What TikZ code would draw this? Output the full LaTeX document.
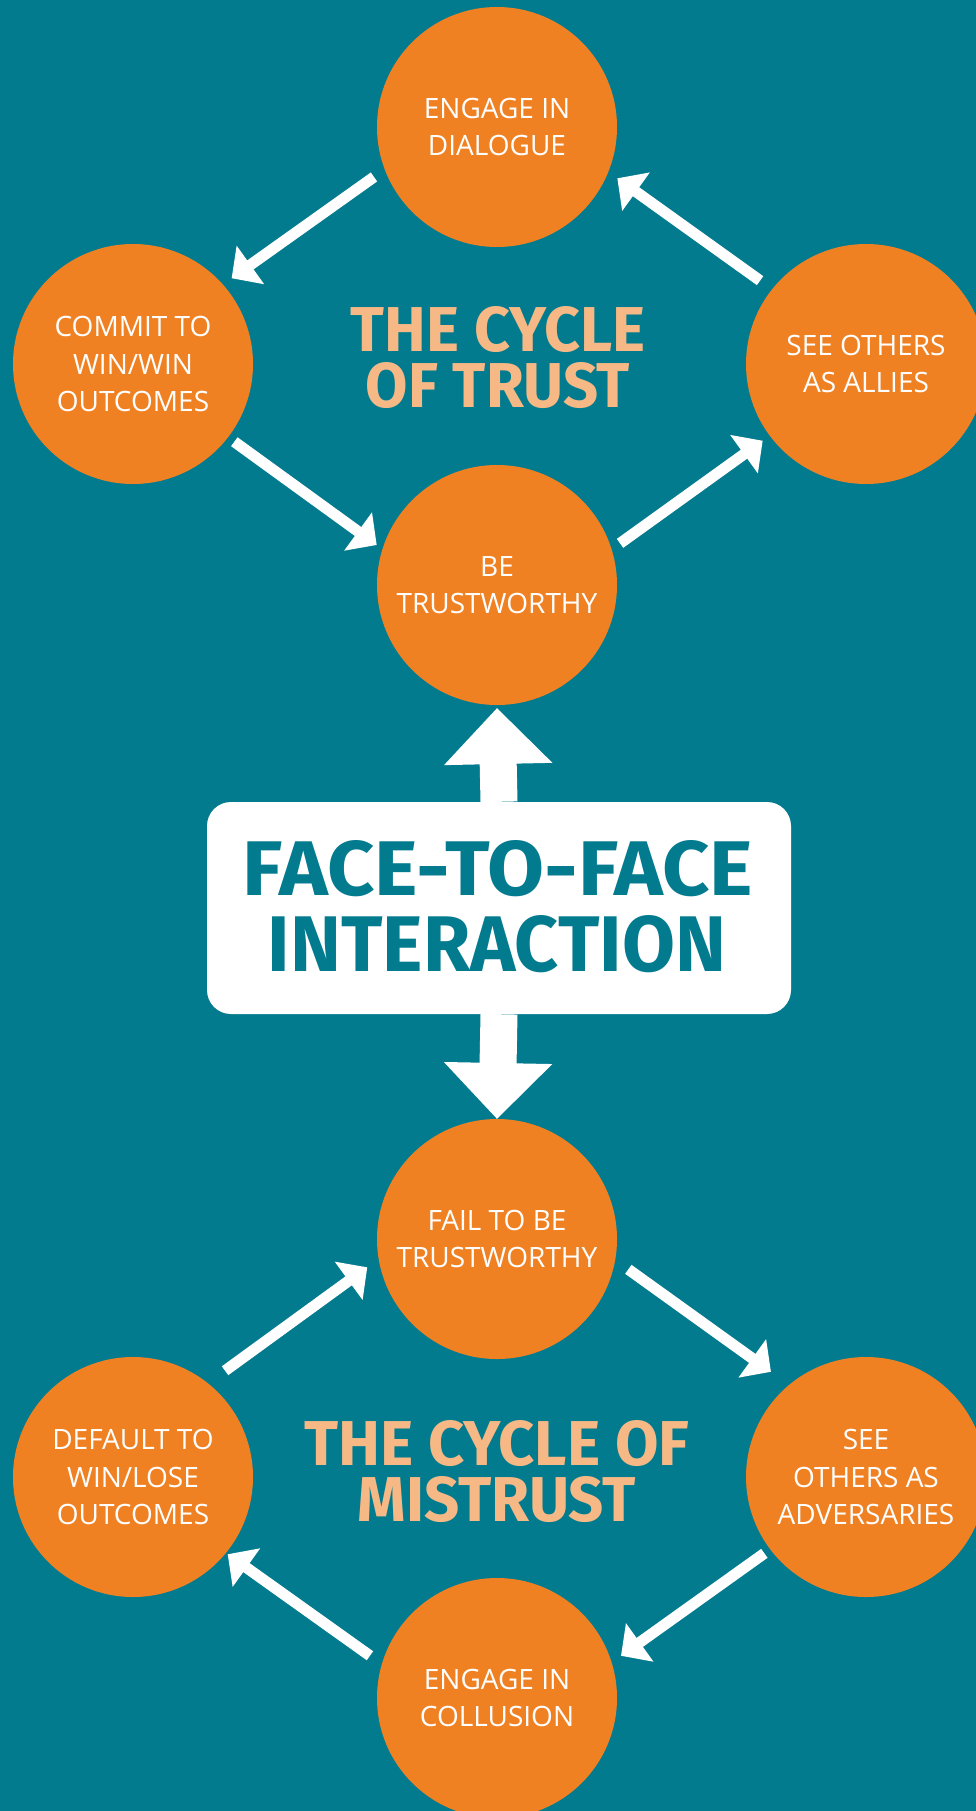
\documentclass[tikz,border=0pt]{standalone}
\usepackage{fontspec}
\usepackage{graphicx}
\usetikzlibrary{arrows.meta,calc}
\newfontfamily\circfont{Open Sans}
\newfontfamily\headfont{Fira Sans}
\definecolor{bgteal}{HTML}{037B8F}
\definecolor{circorange}{HTML}{F08123}
\definecolor{peach}{HTML}{F6B986}
\begin{document}
\begin{tikzpicture}[x=1pt,y=-1pt,
  stage/.style={circle,fill=circorange,minimum size=240pt,inner sep=0pt,outer sep=0pt,
    text=white,align=center,font={\circfont\fontsize{28}{37.7}\selectfont}},
  flow/.style={draw=white,line width=11pt,-{Triangle[length=23pt,width=46pt]}},
  link/.style={draw=white,line width=37pt,-{Triangle[length=56pt,width=105pt]}},
  heading/.style={inner sep=0pt,outer sep=0pt,text=peach,align=center,
    font={\fontsize{10}{56}\selectfont}},
  boxtext/.style={inner sep=0pt,outer sep=0pt,text=bgteal},
]
% background and page frame
\fill[bgteal] (0,0) rectangle (976,1811);
\useasboundingbox (0,0) rectangle (976,1811);
\clip (0,0) rectangle (976,1811);

% cycle of trust
\node[stage] (T) at (497,127) {ENGAGE IN\\DIALOGUE};
\node[stage] (L) at (133,364) {COMMIT TO\\WIN/WIN\\OUTCOMES};
\node[stage] (R) at (866,364) {SEE OTHERS\\AS ALLIES};
\node[stage] (B) at (497,585) {BE\\TRUSTWORTHY};

\node[heading] (trust) at (498,358)
  {\resizebox{294pt}{45pt}{\headfont\bfseries THE CYCLE}\\
   \resizebox{264pt}{45pt}{\headfont\bfseries OF TRUST}};

\draw[flow] ($(T.center)+(202.1:132.8pt)$) -- ($(L.center)+(41:130.7pt)$);
\draw[flow] ($(L.center)+(-37.5:127.7pt)$) -- ($(B.center)+(161.6:126.8pt)$);
\draw[flow] ($(B.center)+(18.7:129.9pt)$) -- ($(R.center)+(216.6:128.7pt)$);
\draw[flow] ($(R.center)+(141.8:134.8pt)$) -- ($(T.center)+(-23.1:130.8pt)$);

% central box
\node[fill=white,rounded corners=24pt,minimum width=584pt,minimum height=212pt,inner sep=0pt] (box) at (499,908) {};
\node[boxtext] (faceA) at (498,869) {\resizebox{510pt}{55pt}{\headfont\bfseries FACE-TO-FACE}};
\node[boxtext] (faceB) at (497,944) {\resizebox{458pt}{56pt}{\headfont\bfseries INTERACTION}};

% cycle of mistrust
\node[stage] (F) at (497,1239) {FAIL TO BE\\TRUSTWORTHY};
\node[stage] (D) at (133,1477) {DEFAULT TO\\WIN/LOSE\\OUTCOMES};
\node[stage] (A) at (866,1477) {SEE\\OTHERS AS\\ADVERSARIES};
\node[stage] (C) at (497,1698) {ENGAGE IN\\COLLUSION};

\draw[link] (box.north) -- ($(B.south)+(0,3)$);
\draw[link] (box.south) -- (F.north);

\node[heading] (mistrust) at (497,1472)
  {\resizebox{385pt}{45pt}{\headfont\bfseries THE CYCLE OF}\\
   \resizebox{278pt}{45pt}{\headfont\bfseries MISTRUST}};

\draw[flow] ($(D.center)+(49.1:140.6pt)$) -- ($(F.center)+(192.3:132.8pt)$);
\draw[flow] ($(F.center)+(-13:134.8pt)$) -- ($(A.center)+(132.1:141.8pt)$);
\draw[flow] ($(A.center)+(216.9:127.1pt)$) -- ($(C.center)+(18.8:131pt)$);
\draw[flow] ($(C.center)+(161.6:133.9pt)$) -- ($(D.center)+(-39.2:122.2pt)$);
\end{tikzpicture}
\end{document}
